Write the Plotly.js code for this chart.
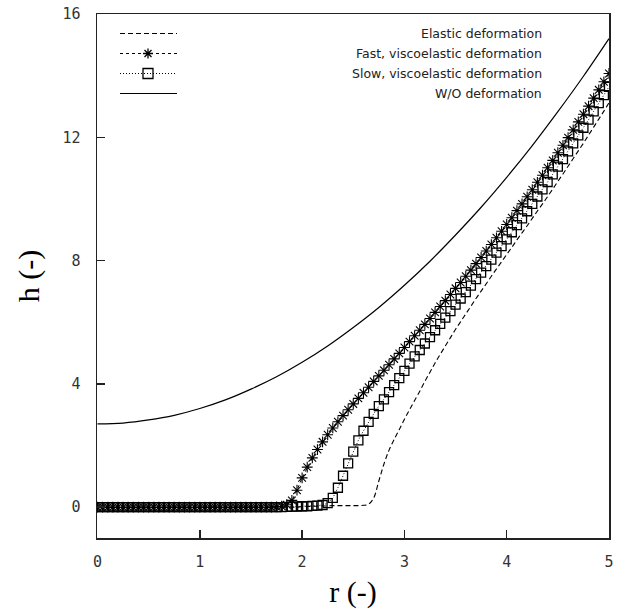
<!DOCTYPE html>
<html>
<head>
<meta charset="utf-8">
<script src="https://cdn.plot.ly/plotly-3.0.1.min.js"></script>
<style>html,body{margin:0;padding:0;background:#fff;}#chart{width:629px;height:609px;}</style>
</head>
<body>
<div id="chart"></div>
<script>
// radial coordinate grid (markers)
const r = [0,0.05,0.1,0.15,0.2,0.25,0.3,0.35,0.4,0.45,0.5,0.55,0.6,0.65,0.7,0.75,0.8,0.85,0.9,0.95,
  1,1.05,1.1,1.15,1.2,1.25,1.3,1.35,1.4,1.45,1.5,1.55,1.6,1.65,1.7,1.75,1.8,1.85,1.9,1.95,
  2,2.05,2.1,2.15,2.2,2.25,2.3,2.35,2.4,2.45,2.5,2.55,2.6,2.65,2.7,2.75,2.8,2.85,2.9,2.95,
  3,3.05,3.1,3.15,3.2,3.25,3.3,3.35,3.4,3.45,3.5,3.55,3.6,3.65,3.7,3.75,3.8,3.85,3.9,3.95,
  4,4.05,4.1,4.15,4.2,4.25,4.3,4.35,4.4,4.45,4.5,4.55,4.6,4.65,4.7,4.75,4.8,4.85,4.9,4.95,5];

const hElastic = [0,0,0,0,0,0,0,0,0,0,0,0,0,0,0,0,0,0,0,0,
  0,0,0,0,0,0,0,0,0,0,0,0,0,0,0,0,0,0,0,0,
  0.02,0.02,0.03,0.03,0.04,0.04,0.05,0.05,0.05,0.05,0.05,0.05,0.06,0.1,0.3,0.85,1.4,1.85,2.2,2.52,
  2.85,3.16,3.46,3.76,4.08,4.38,4.68,4.96,5.23,5.50,5.77,6.02,6.27,6.52,6.77,7.01,7.25,7.49,7.73,7.96,
  8.20,8.43,8.67,8.90,9.13,9.37,9.61,9.84,10.08,10.32,10.57,10.81,11.06,11.31,11.56,11.81,12.07,12.33,12.59,12.85,13.12];

const hFast = [0,0,0,0,0,0,0,0,0,0,0,0,0,0,0,0,0,0,0,0,
  0,0,0,0,0,0,0,0,0,0,0,0,0,0,0,0.01,0.03,0.08,0.22,0.55,
  0.95,1.3,1.6,1.87,2.12,2.35,2.57,2.77,2.97,3.16,3.35,3.53,3.71,3.89,4.08,4.26,4.44,4.62,4.81,4.99,
  5.18,5.37,5.56,5.74,5.93,6.12,6.32,6.51,6.70,6.90,7.10,7.29,7.49,7.69,7.90,8.10,8.31,8.52,8.74,8.95,
  9.17,9.39,9.62,9.84,10.07,10.30,10.54,10.77,11.01,11.25,11.50,11.74,11.99,12.24,12.50,12.75,13.01,13.27,13.54,13.80,14.07];

const hSlow = [0,0,0,0,0,0,0,0,0,0,0,0,0,0,0,0,0,0,0,0,
  0,0,0,0,0,0,0,0,0,0,0,0,0,0,0,0,0,0.01,0.02,0.02,
  0.03,0.03,0.04,0.05,0.07,0.13,0.3,0.63,1.02,1.42,1.8,2.17,2.48,2.77,3.03,3.28,3.5,3.73,3.96,4.19,
  4.42,4.66,4.89,5.10,5.31,5.52,5.74,5.95,6.15,6.36,6.57,6.77,6.98,7.19,7.40,7.61,7.82,8.03,8.26,8.47,
  8.69,8.92,9.15,9.37,9.60,9.84,10.08,10.31,10.55,10.80,11.05,11.29,11.54,11.80,12.06,12.31,12.57,12.84,13.11,13.37,13.64];

// undeformed profile
const rWO = [0,0.25,0.5,0.75,1,1.25,1.5,1.75,2,2.25,2.5,2.75,3,3.25,3.5,3.75,4,4.25,4.5,4.75,5];
const hWO = [2.70,2.73,2.83,2.98,3.20,3.48,3.83,4.23,4.70,5.23,5.83,6.48,7.20,7.98,8.83,9.73,10.70,11.73,12.83,13.98,15.20];

const seriesNames = ["Elastic deformation","Fast, viscoelastic deformation","Slow, viscoelastic deformation","W/O deformation"];

const traces = [
  {x: rWO, y: hWO, mode: 'lines', name: seriesNames[3], line: {color: '#000', width: 1.2, shape: 'spline'}},
  {x: r, y: hElastic, mode: 'lines', name: seriesNames[0], line: {color: '#000', width: 1.1, dash: '5px,3px', shape: 'spline'}},
  {x: r, y: hSlow, mode: 'lines+markers', name: seriesNames[2], line: {color: '#000', width: 1, dash: '1px,2px'},
    marker: {symbol: 'square-open', size: 9, color: '#000', line: {width: 1.3, color: '#000'}}},
  {x: r, y: hFast, mode: 'lines+markers', name: seriesNames[1], line: {color: '#000', width: 1, dash: '3px,3px'},
    marker: {symbol: 'asterisk-open', size: 9, color: '#000', line: {width: 1.1, color: '#000'}}}
];

// custom legend (right-aligned text, samples on the left)
const W = 512, H = 524, L = 97, T = 14;
const px = v => (v - L) / W;
const py = v => (T + H - v) / H;
const legY = [33.5, 53.5, 73.5, 93.5];
const legDash = ['5px,3px', '3px,3px', '1px,2px', 'solid'];
const annotations = seriesNames.map((n, i) => ({
  xref: 'paper', yref: 'paper', x: px(544), y: py(legY[i]), xanchor: 'right', yanchor: 'middle',
  text: n, showarrow: false, font: {family: 'DejaVu Sans', size: 12.5, color: '#222'}
}));
const shapes = [];
legY.forEach((yy, i) => {
  shapes.push({type: 'line', xref: 'paper', yref: 'paper', x0: px(120), x1: px(177), y0: py(yy), y1: py(yy),
    line: {color: '#000', width: i === 3 ? 1.2 : 1.1, dash: legDash[i]}});
});
shapes.push({type: 'path', xref: 'paper', yref: 'paper', xsizemode: 'pixel', ysizemode: 'pixel',
  xanchor: px(148), yanchor: py(legY[1]),
  path: 'M-5,0L5,0M0,-5L0,5M-3.5,-3.5L3.5,3.5M-3.5,3.5L3.5,-3.5', line: {color: '#000', width: 1.3}});
shapes.push({type: 'rect', xref: 'paper', yref: 'paper', xsizemode: 'pixel', ysizemode: 'pixel',
  xanchor: px(148), yanchor: py(legY[2]), x0: -5, x1: 5, y0: -5, y1: 5,
  line: {color: '#000', width: 1.3}, fillcolor: 'rgba(0,0,0,0)'});

const tickFont = {family: 'DejaVu Sans Mono', size: 15, color: '#333'};
const layout = {
  width: 629, height: 609,
  margin: {l: L, r: 629 - L - W, t: T, b: 609 - T - H},
  paper_bgcolor: '#fff', plot_bgcolor: '#fff',
  showlegend: false,
  xaxis: {range: [-0.005, 5], tick0: 0, dtick: 1, ticks: 'inside', ticklen: 8, tickwidth: 1.5, tickcolor: '#222',
    showline: true, linecolor: '#222', linewidth: 1.5, mirror: true, showgrid: false, zeroline: false,
    tickfont: tickFont, ticklabelstandoff: 9,
    title: {text: 'r (-)', font: {family: 'Liberation Serif', size: 30, color: '#000'}, standoff: 12}},
  yaxis: {range: [-1, 16], tick0: 0, dtick: 4, ticks: 'inside', ticklen: 8, tickwidth: 1.5, tickcolor: '#222',
    showline: true, linecolor: '#222', linewidth: 1.5, mirror: true, showgrid: false, zeroline: false,
    tickfont: tickFont, ticklabelstandoff: 12,
    title: {text: 'h (-)', font: {family: 'Liberation Serif', size: 30, color: '#000'}, standoff: 14}},
  annotations: annotations,
  shapes: shapes
};

Plotly.newPlot('chart', traces, layout, {displayModeBar: false, staticPlot: true});
</script>
</body>
</html>
